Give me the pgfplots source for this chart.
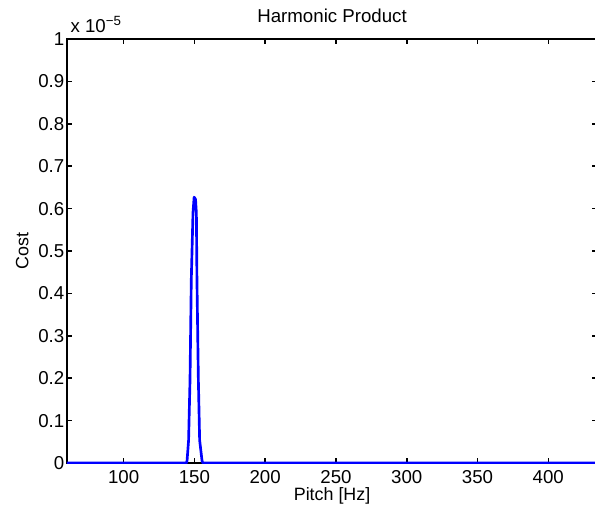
\documentclass[border=0pt]{standalone}
\usepackage{fontspec}
\setmainfont{Liberation Sans}
\usepackage{pgfplots}
\pgfplotsset{compat=1.18}
\begin{document}
\begin{tikzpicture}
\begin{axis}[
  scale only axis,
  width=397.6pt, height=318pt,
  xmin=60, xmax=434.5, ymin=0, ymax=1,
  axis line style={black, line width=1.6pt},
  every tick/.style={black, line width=1.2pt},
  major tick length=4pt,
  tick align=inside,
  xtick={100,150,200,250,300,350,400},
  ytick={0,0.1,0.2,0.3,0.4,0.5,0.6,0.7,0.8,0.9,1},
  yticklabels={0,0.1,0.2,0.3,0.4,0.5,0.6,0.7,0.8,0.9,1},
  /pgf/number format/assume math mode=true,
  tick label style={font=\fontsize{14}{16}\selectfont},
  label style={font=\fontsize{13.4}{15}\selectfont},
  xticklabel style={anchor=base, yshift=-15.2pt},
  yticklabel style={xshift=1.5pt},
  xlabel={Pitch [Hz]},
  xlabel style={at={(axis description cs:0.5,-0.089)}, anchor=base, yshift=0pt},
  ylabel={Cost},
  ylabel style={at={(axis description cs:-0.0729,0.5)}, anchor=base, yshift=0pt},
  clip mode=individual,
]
\addplot[color={rgb,255:red,0;green,0;blue,255}, line width=2pt, line join=round] coordinates {
(60,0) (144.3,0) (144.8,0.005) (145.9,0.054) (146.9,0.196) (147.8,0.432) (149,0.59) (149.8,0.627) (150.8,0.622) (151.4,0.589) (151.8,0.432) (152.8,0.196) (153.7,0.054) (155.4,0.005) (156,0) (434.5,0)
};
\node[anchor=base, inner sep=0pt, font=\fontsize{14}{16}\selectfont] at ([yshift=12pt]rel axis cs:0.5,1) {Harmonic Product};
\node[anchor=base west, inner sep=0pt, font=\fontsize{14}{16}\selectfont] at ([xshift=2.5pt,yshift=4.5pt]rel axis cs:0,1) {x 10\raisebox{0.75ex}{\fontsize{10}{10}\selectfont \char"2212 5}};
\end{axis}
\pgfresetboundingbox
\useasboundingbox (-50.25pt,-33.75pt) rectangle (396pt,347.25pt);
\end{tikzpicture}
\end{document}
